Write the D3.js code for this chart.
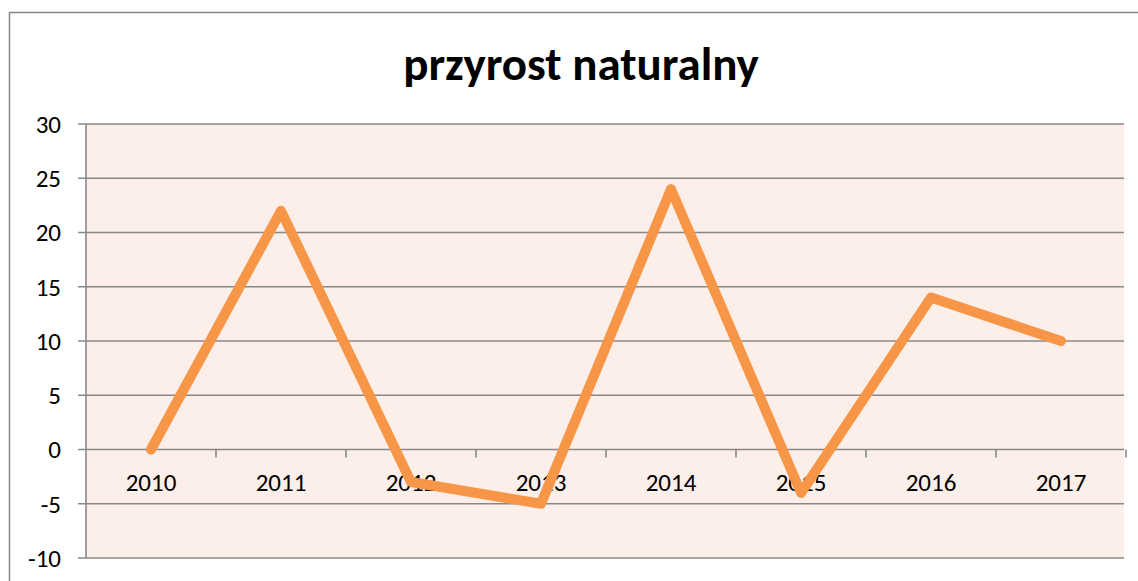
<!DOCTYPE html>
<html>
<head>
<meta charset="utf-8">
<script src="https://cdn.jsdelivr.net/npm/d3@7"></script>
<style>
  body { margin: 0; background: #fff; }
  svg text { font-family: Carlito, Calibri, Lato, sans-serif; fill: #000; }
</style>
</head>
<body>
<div id="chart"></div>
<script>
// data
var years = ["2010", "2011", "2012", "2013", "2014", "2015", "2016", "2017"];
var values = [0, 22, -3, -5, 24, -4, 14, 10];
var yTicks = [-10, -5, 0, 5, 10, 15, 20, 25, 30];
var title = "przyrost naturalny";

var W = 1138, H = 581;
var svg = d3.select("#chart").append("svg").attr("width", W).attr("height", H);

// outer chart frame (cut by the window on right/bottom)
svg.append("rect").attr("x", 9.5).attr("y", 12.5).attr("width", 1200).attr("height", 700)
   .attr("fill", "none").attr("stroke", "#878787").attr("stroke-width", 1.5);

svg.append("text").attr("x", 581).attr("y", 80).attr("text-anchor", "middle")
   .attr("font-size", 47).attr("font-weight", "bold").text(title);

var x = d3.scaleBand().domain(years).range([86, 1126]).padding(0);
var y = d3.scaleLinear().domain([-10, 30]).range([558, 124]);

// plot area fill
svg.append("rect").attr("x", 86).attr("y", y(30)).attr("width", 1124 - 86).attr("height", y(-10) - y(30))
   .attr("fill", "#FCEEE9");

// gridlines + y ticks
var gy = svg.append("g");
gy.selectAll("line.grid").data(yTicks).enter().append("line")
  .attr("x1", 78).attr("x2", 1124)
  .attr("y1", function(d) { return y(d); }).attr("y2", function(d) { return y(d); })
  .attr("stroke", "#888").attr("stroke-width", 1.6);
gy.selectAll("text").data(yTicks).enter().append("text")
  .attr("x", 61).attr("y", function(d) { return y(d); }).attr("dy", "0.35em")
  .attr("text-anchor", "end").attr("font-size", 25).text(function(d) { return d; });

// y axis line
svg.append("line").attr("x1", 86).attr("x2", 86).attr("y1", y(30)).attr("y2", y(-10))
   .attr("stroke", "#888").attr("stroke-width", 1.6);

// x axis at zero
var xa = svg.append("g").attr("transform", "translate(0," + y(0) + ")")
  .call(d3.axisBottom(x).tickSize(0).tickPadding(24));
xa.select(".domain").remove();
xa.selectAll("text").attr("font-size", 25).attr("font-family", null);
xa.selectAll("line.sep").data(years).enter().append("line").attr("class", "sep")
  .attr("x1", function(d) { return x(d) + x.bandwidth(); })
  .attr("x2", function(d) { return x(d) + x.bandwidth(); })
  .attr("y1", 0).attr("y2", 8).attr("stroke", "#888").attr("stroke-width", 1.6);

// series
var line = d3.line()
  .x(function(d, i) { return x(years[i]) + x.bandwidth() / 2; })
  .y(function(d) { return y(d); });
svg.append("path").datum(values).attr("d", line)
   .attr("fill", "none").attr("stroke", "#F79646").attr("stroke-width", 10)
   .attr("stroke-linejoin", "round").attr("stroke-linecap", "round");
</script>
</body>
</html>
